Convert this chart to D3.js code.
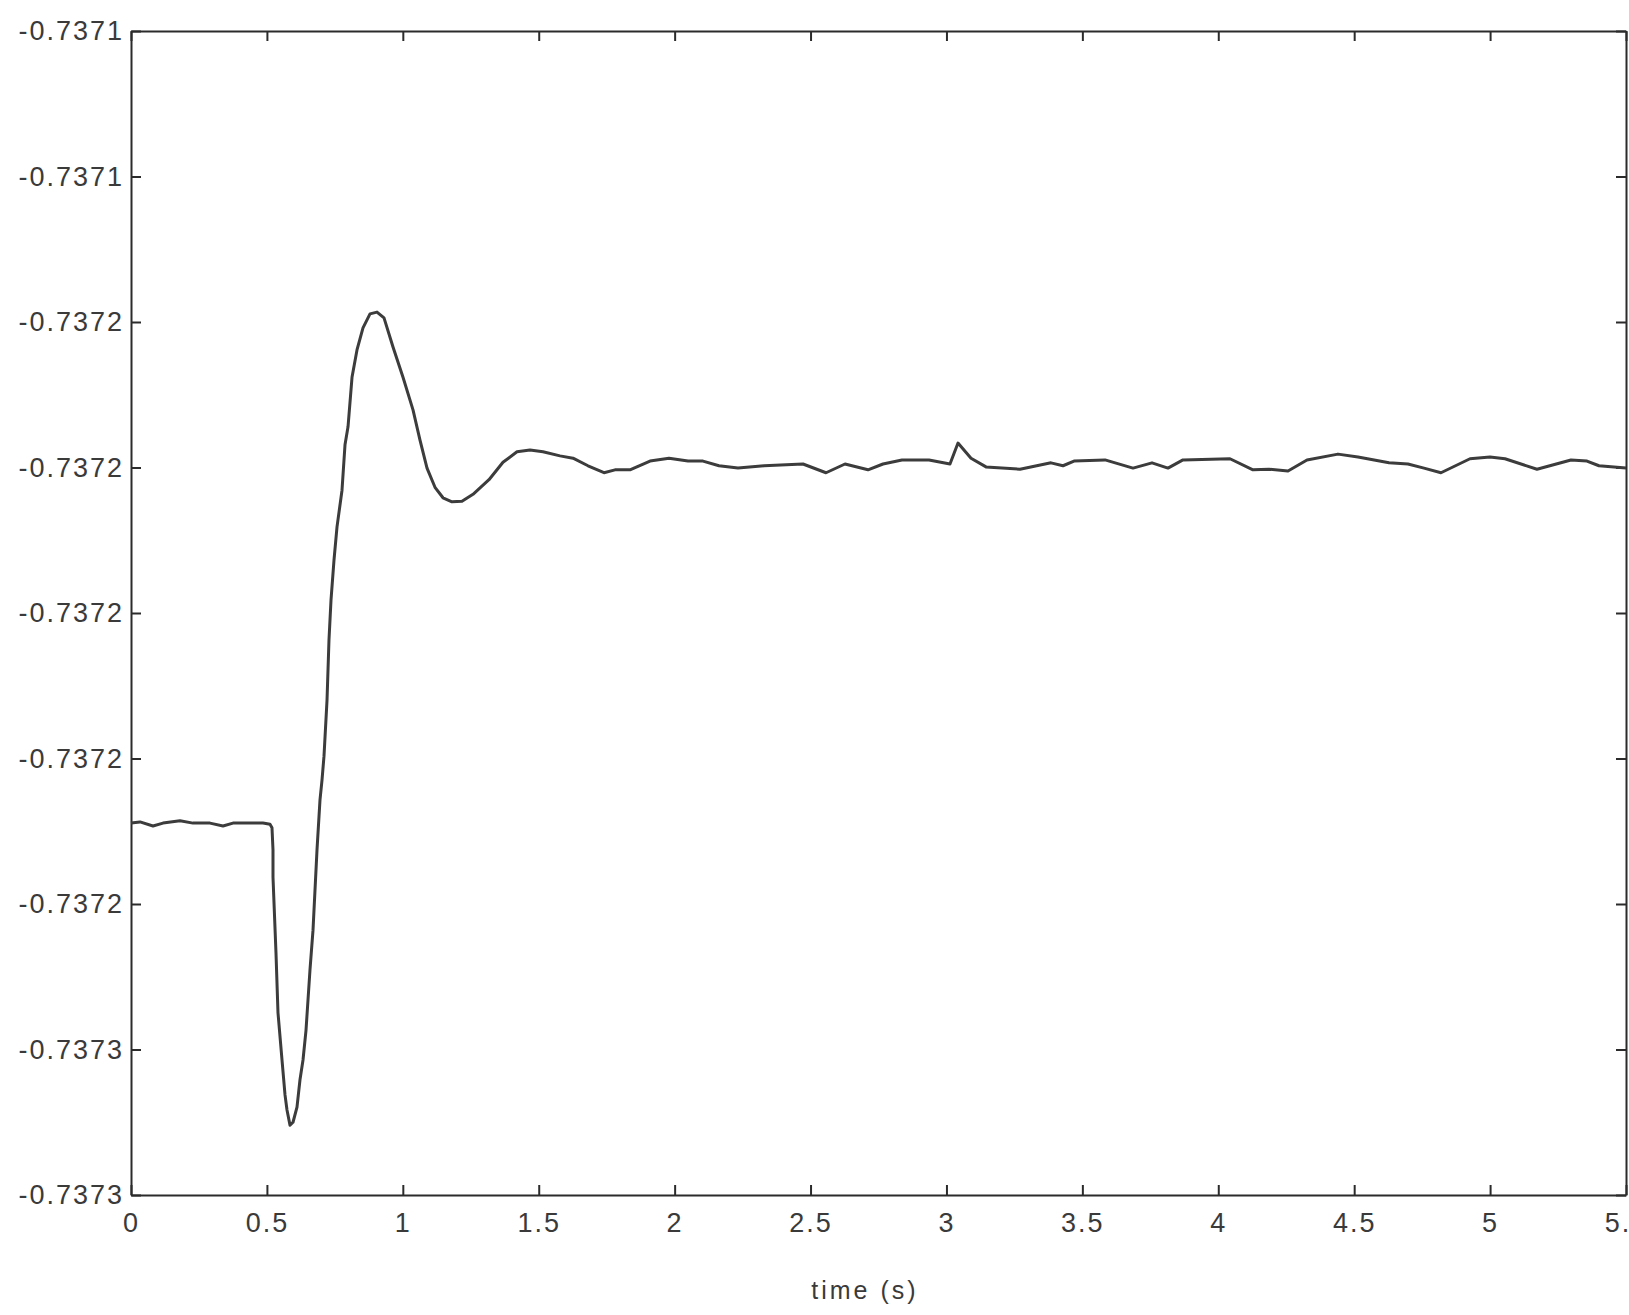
<!DOCTYPE html>
<meta charset="utf-8">
<style>

body {
  margin: 0;
  background: #fff;
}

svg {
  display: block;
  font-family: "Liberation Sans", Arial, Helvetica, sans-serif;
}

.axis path,
.axis line {
  stroke: #2b2b2b;
  stroke-width: 2px;
}

.axis text {
  fill: #3a3a3a;
  font-size: 27px;
  letter-spacing: 2px;
}

path.curve {
  fill: none;
  stroke: #3c3c3c;
  stroke-width: 3px;
  stroke-linejoin: round;
}

</style>
<body>

<script src="https://d3js.org/d3.v7.min.js"></script>
<script>

// time (s) and signal value
let times = [
  0, 0.0331, 0.0809, 0.1177, 0.1803, 0.2281, 0.2906, 0.3385, 0.3752, 0.4268,
  0.4856, 0.5114, 0.5187, 0.5224, 0.5224, 0.5334, 0.5408, 0.5555, 0.5666, 0.5739,
  0.5849, 0.5960, 0.6107, 0.6217, 0.6328, 0.6438, 0.6585, 0.6696, 0.6843, 0.6953,
  0.7027, 0.7100, 0.7211, 0.7284, 0.7358, 0.7468, 0.7579, 0.7763, 0.7873, 0.7984,
  0.8131, 0.8314, 0.8535, 0.8793, 0.9050, 0.9308, 0.9639, 1.0007, 1.0375, 1.0632,
  1.0890, 1.1184, 1.1478, 1.1809, 1.2177, 1.2582, 1.3170, 1.3685, 1.4200, 1.4679,
  1.5157, 1.5783, 1.6261, 1.6813, 1.7401, 1.7806, 1.8358, 1.9094, 1.9793, 2.0492,
  2.1043, 2.1632, 2.2331, 2.3288, 2.4722, 2.5569, 2.6268, 2.7114, 2.7665, 2.8364,
  2.9358, 3.0130, 3.0425, 3.0903, 3.1455, 3.2705, 3.3846, 3.4288, 3.4692, 3.5833,
  3.6863, 3.7562, 3.8150, 3.8702, 4.0431, 4.1277, 4.1866, 4.2565, 4.3264, 4.4404,
  4.5140, 4.6281, 4.6979, 4.7568, 4.8194, 4.9261, 4.9996, 5.0548, 5.1725, 5.2976,
  5.3565, 5.4006, 5.5000
];

let values = [
  -0.7372361, -0.7372359, -0.7372366, -0.7372361, -0.7372357, -0.7372361, -0.7372361, -0.7372366, -0.7372361, -0.7372361,
  -0.7372361, -0.7372363, -0.7372369, -0.7372407, -0.7372454, -0.7372584, -0.7372687, -0.7372768, -0.7372828, -0.7372854,
  -0.7372880, -0.7372875, -0.7372849, -0.7372802, -0.7372768, -0.7372717, -0.7372613, -0.7372545, -0.7372407, -0.7372321,
  -0.7372287, -0.7372246, -0.7372150, -0.7372046, -0.7371978, -0.7371909, -0.7371852, -0.7371789, -0.7371711, -0.7371680,
  -0.7371595, -0.7371548, -0.7371510, -0.7371486, -0.7371483, -0.7371493, -0.7371543, -0.7371595, -0.7371651, -0.7371703,
  -0.7371751, -0.7371784, -0.7371802, -0.7371809, -0.7371808, -0.7371796, -0.7371771, -0.7371741, -0.7371723, -0.7371720,
  -0.7371723, -0.7371730, -0.7371734, -0.7371747, -0.7371759, -0.7371754, -0.7371754, -0.7371739, -0.7371734, -0.7371739,
  -0.7371739, -0.7371747, -0.7371751, -0.7371747, -0.7371744, -0.7371759, -0.7371744, -0.7371754, -0.7371744, -0.7371737,
  -0.7371737, -0.7371744, -0.7371708, -0.7371734, -0.7371749, -0.7371753, -0.7371742, -0.7371747, -0.7371739, -0.7371737,
  -0.7371751, -0.7371742, -0.7371751, -0.7371737, -0.7371735, -0.7371754, -0.7371753, -0.7371756, -0.7371737, -0.7371727,
  -0.7371732, -0.7371742, -0.7371744, -0.7371751, -0.7371759, -0.7371735, -0.7371732, -0.7371735, -0.7371753, -0.7371737,
  -0.7371739, -0.7371747, -0.7371751
];

let xTicks = [0, 0.5, 1, 1.5, 2, 2.5, 3, 3.5, 4, 4.5, 5, 5.5];
let xTickLabels = ["0", "0.5", "1", "1.5", "2", "2.5", "3", "3.5", "4", "4.5", "5", "5.5"];

let yTicks = [-0.7371, -0.737125, -0.73715, -0.737175, -0.7372, -0.737225, -0.73725, -0.737275, -0.7373];
let yTickLabels = ["-0.7371", "-0.7371", "-0.7372", "-0.7372", "-0.7372", "-0.7372", "-0.7372", "-0.7373", "-0.7373"];

let W = 1629, H = 1315;
let margin = {top: 31, right: 3, bottom: 120, left: 131};
let width = W - margin.left - margin.right,
    height = H - margin.top - margin.bottom;

let svg = d3.select("body")
  .append("svg")
  .attr("width", W)
  .attr("height", H);

let g = svg.append("g")
  .attr("transform", "translate(" + margin.left + "," + margin.top + ")");

let x = d3.scaleLinear()
  .domain([0, 5.5])
  .range([0, width]);

let y = d3.scaleLinear()
  .domain([-0.7373, -0.7371])
  .range([height, 0]);

/* ------- AXES (matlab style box, ticks inward) -------*/
g.append("g")
  .attr("class", "axis")
  .attr("transform", "translate(0," + height + ")")
  .call(d3.axisBottom(x)
    .tickValues(xTicks)
    .tickFormat(function(d, i) { return xTickLabels[i]; })
    .tickSizeInner(-10)
    .tickSizeOuter(0)
    .tickPadding(18));

g.append("g")
  .attr("class", "axis")
  .call(d3.axisTop(x)
    .tickValues(xTicks)
    .tickFormat("")
    .tickSizeInner(-10)
    .tickSizeOuter(0));

g.append("g")
  .attr("class", "axis")
  .call(d3.axisLeft(y)
    .tickValues(yTicks)
    .tickFormat(function(d, i) { return yTickLabels[i]; })
    .tickSizeInner(-10)
    .tickSizeOuter(0)
    .tickPadding(7));

g.append("g")
  .attr("class", "axis")
  .attr("transform", "translate(" + width + ",0)")
  .call(d3.axisRight(y)
    .tickValues(yTicks)
    .tickFormat("")
    .tickSizeInner(-10)
    .tickSizeOuter(0));

g.selectAll(".axis text").attr("font-size", null);

/* ------- CURVE -------*/
let line = d3.line()
  .x(function(d, i) { return x(times[i]); })
  .y(function(d) { return y(d); });

g.append("path")
  .attr("class", "curve")
  .attr("d", line(values));

g.append("text")
  .attr("x", x(2.7))
  .attr("y", height + 104)
  .attr("text-anchor", "middle")
  .style("font-size", "25px")
  .style("letter-spacing", "3px")
  .style("fill", "#3a3a3a")
  .text("time (s)");

</script>
</body>
